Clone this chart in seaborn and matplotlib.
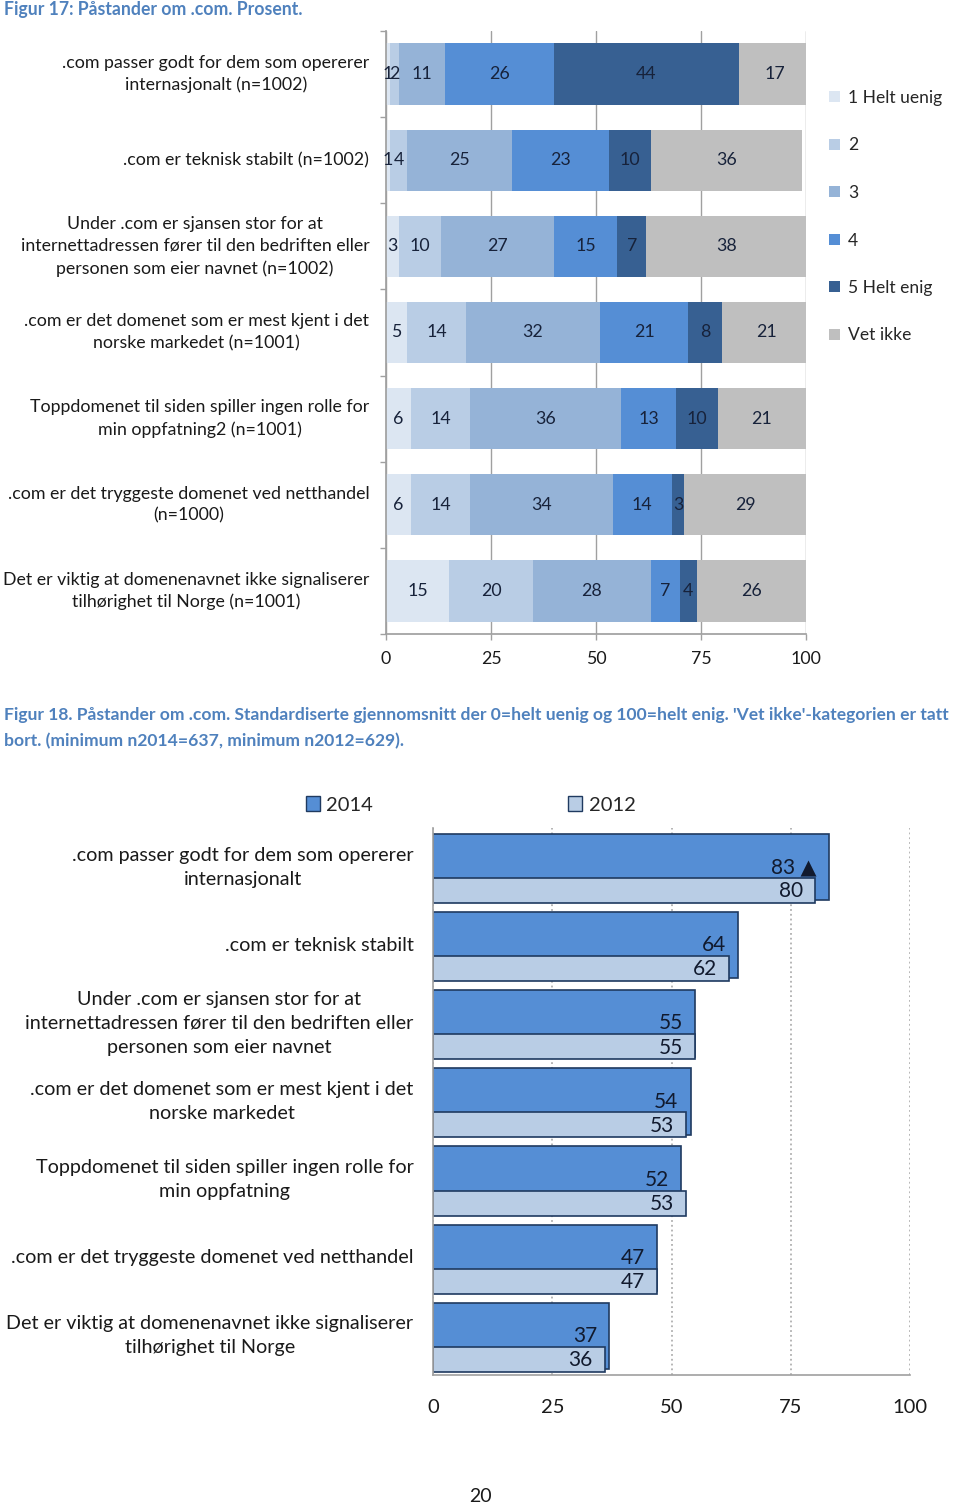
import numpy as np
import matplotlib
matplotlib.use("Agg")
import matplotlib.pyplot as plt
import seaborn as sns
from matplotlib.patches import Patch

sns.set_theme(style="white")
plt.rcParams['font.family'] = ['Lato', 'DejaVu Sans']

# Figur 17 - andel per svarkategori
statements_17 = [
    ".com passer godt for dem som opererer\ninternasjonalt (n=1002)",
    ".com er teknisk stabilt (n=1002)",
    "Under .com er sjansen stor for at\ninternettadressen fører til den bedriften eller\npersonen som eier navnet (n=1002)",
    ".com er det domenet som er mest kjent i det\nnorske markedet (n=1001)",
    "Toppdomenet til siden spiller ingen rolle for\nmin oppfatning2 (n=1001)",
    ".com er det tryggeste domenet ved netthandel\n(n=1000)",
    "Det er viktig at domenenavnet ikke signaliserer\ntilhørighet til Norge (n=1001)",
]
categories_17 = ["1 Helt uenig", "2", "3", "4", "5 Helt enig", "Vet ikke"]
helt_uenig = [1, 1, 3, 5, 6, 6, 15]
svar_2 = [2, 4, 10, 14, 14, 14, 20]
svar_3 = [11, 25, 27, 32, 36, 34, 28]
svar_4 = [26, 23, 15, 21, 13, 14, 7]
helt_enig = [44, 10, 7, 8, 10, 3, 4]
vet_ikke = [17, 36, 38, 21, 21, 29, 26]

# Figur 18 - standardiserte gjennomsnitt
statements_18 = [
    ".com passer godt for dem som opererer\ninternasjonalt",
    ".com er teknisk stabilt",
    "Under .com er sjansen stor for at\ninternettadressen fører til den bedriften eller\npersonen som eier navnet",
    ".com er det domenet som er mest kjent i det\nnorske markedet",
    "Toppdomenet til siden spiller ingen rolle for\nmin oppfatning",
    ".com er det tryggeste domenet ved netthandel",
    "Det er viktig at domenenavnet ikke signaliserer\ntilhørighet til Norge",
]
avg_2014 = [83, 64, 55, 54, 52, 47, 37]
avg_2012 = [80, 62, 55, 53, 53, 47, 36]
signif_2014 = ["▲", "", "", "", "", "", ""]
years = ["2014", "2012"]

colors_17 = ["#dce6f2", "#b9cde5", "#95b3d7", "#558ed5", "#376092", "#bfbfbf"]
col_2014 = "#558ed5"
col_2012 = "#b9cde5"
edge_18 = "#1f3a60"
title_col = "#4f81bd"
label_col = "#17223a"
text_col = "#1a1a1a"
axis_col = "#a0a0a0"

fig = plt.figure(figsize=(9.6, 15.07), dpi=100)

# ---------- Figur 17 ----------
ax1 = fig.add_axes([386 / 960, 1 - 634 / 1507, 420 / 960, 603 / 1507])
pos17 = np.arange(len(statements_17))
left = np.zeros(len(pos17))
for vals, col in zip([helt_uenig, svar_2, svar_3, svar_4, helt_enig, vet_ikke], colors_17):
    sns.barplot(x=vals, y=pos17, orient="h", native_scale=True, left=left,
                width=0.71, color=col, saturation=1, errorbar=None,
                linewidth=0, ax=ax1)
    for p, v, l in zip(pos17, vals, left):
        ax1.text(l + v / 2, p, str(v), ha="center", va="center",
                 fontsize=12.8, color=label_col)
    left = left + np.array(vals)

ax1.set_xlim(0, 100)
ax1.set_ylim(6.5, -0.5)
ax1.set_xticks([0, 25, 50, 75, 100])
ax1.set_yticks(pos17)
ax1.set_yticklabels(statements_17)
for lab in ax1.get_yticklabels():
    lab.set_multialignment("center")
    lab.set_linespacing(1.45)
    lab.set_verticalalignment("center")
ax1.set_yticks(np.arange(-0.5, 7, 1), minor=True)
ax1.tick_params(axis="y", which="major", length=0, pad=12, labelsize=12.8, labelcolor=text_col)
ax1.tick_params(axis="y", which="minor", left=True, length=4, width=1, color=axis_col, direction="out")
ax1.tick_params(axis="x", bottom=True, length=4, width=1, color=axis_col, pad=8,
                labelsize=12.8, labelcolor=text_col)
ax1.xaxis.grid(True, color=axis_col, lw=1)
ax1.yaxis.grid(False)
ax1.set_axisbelow(True)
for s in ["top", "right"]:
    ax1.spines[s].set_visible(False)
for s in ["left", "bottom"]:
    ax1.spines[s].set_color(axis_col)
ax1.set_xlabel("")
ax1.set_ylabel("")

handles17 = [Patch(facecolor=c, edgecolor="none") for c in colors_17]
fig.legend(handles17, categories_17, loc="upper left",
           bbox_to_anchor=(829 / 960, 1 - 90 / 1507), frameon=False, fontsize=12.6,
           handlelength=0.6, handleheight=0.6, handletextpad=0.5,
           labelspacing=1.8, borderpad=0, borderaxespad=0)

fig.text(4 / 960, 1 - 9 / 1507, "Figur 17: Påstander om .com. Prosent.",
         fontsize=12.7, fontweight="bold", color=title_col, ha="left", va="center")

# ---------- Figur 18 ----------
fig.text(4 / 960, 1 - 728 / 1507,
         "Figur 18. Påstander om .com. Standardiserte gjennomsnitt der 0=helt uenig og 100=helt enig. 'Vet ikke'-kategorien er tatt\n"
         "bort. (minimum n2014=637, minimum n2012=629).",
         fontsize=12.6, fontweight="bold", color=title_col, ha="left", va="center",
         linespacing=1.7)

ax2 = fig.add_axes([433 / 960, 1 - 1375 / 1507, 477 / 960, 547 / 1507])
pos18 = np.arange(len(statements_18))
sns.barplot(x=avg_2014, y=pos18, orient="h", native_scale=True, width=0.85,
            color=col_2014, saturation=1, edgecolor=edge_18, linewidth=1.2,
            errorbar=None, ax=ax2)
sns.barplot(x=avg_2012, y=pos18 + 0.30, orient="h", native_scale=True, width=0.32,
            color=col_2012, saturation=1, edgecolor=edge_18, linewidth=1.2,
            errorbar=None, ax=ax2)
for p, v, m in zip(pos18, avg_2014, signif_2014):
    ax2.text(v - 2.6, p, f"{v} {m}".strip(), ha="right", va="center",
             fontsize=15, color="#111a2e")
for p, v in zip(pos18, avg_2012):
    ax2.text(v - 2.5, p + 0.31, str(v), ha="right", va="center",
             fontsize=15, color="#111a2e")

ax2.set_xlim(0, 100)
ax2.set_ylim(6.5, -0.5)
ax2.set_xticks([0, 25, 50, 75, 100])
ax2.set_yticks(pos18)
ax2.set_yticklabels(statements_18)
for lab in ax2.get_yticklabels():
    lab.set_multialignment("center")
    lab.set_linespacing(1.5)
    lab.set_verticalalignment("center")
ax2.tick_params(axis="y", length=0, pad=14, labelsize=14.2, labelcolor=text_col)
ax2.tick_params(axis="x", length=0, pad=17, labelsize=14.5, labelcolor=text_col)
ax2.xaxis.grid(True, color="#b0b0b0", lw=1.3, linestyle=":")
ax2.yaxis.grid(False)
ax2.set_axisbelow(True)
for s in ["top", "right"]:
    ax2.spines[s].set_visible(False)
for s in ["left", "bottom"]:
    ax2.spines[s].set_color(axis_col)
    ax2.spines[s].set_linewidth(1.2)
ax2.set_xlabel("")
ax2.set_ylabel("")

handles18 = [Patch(facecolor=col_2014, edgecolor=edge_18),
             Patch(facecolor=col_2012, edgecolor=edge_18)]
fig.legend(handles18, years, loc="center left",
           bbox_to_anchor=(306 / 960, 1 - 805 / 1507), ncol=2, frameon=False,
           fontsize=14.5, handlelength=0.7, handleheight=0.7, handletextpad=0.3,
           columnspacing=9.7, borderpad=0, borderaxespad=0)

fig.text(0.5, 1 - 1497 / 1507, "20", ha="center", va="center", fontsize=14, color=text_col)

fig.savefig("out.png", dpi=100)
